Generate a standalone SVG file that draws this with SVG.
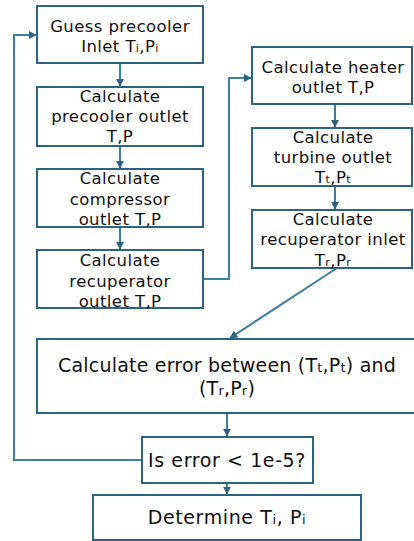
<svg xmlns="http://www.w3.org/2000/svg" width="414" height="541" viewBox="0 0 414 541">
<style>
.box{fill:#fff;stroke:#2a6482;stroke-width:2}
.c{fill:none;stroke:#3a7fa6;stroke-width:2}
text{font-family:"DejaVu Sans","Noto Sans",sans-serif;font-size:16.5px;letter-spacing:0.4px;fill:#111;text-anchor:middle}
.b{font-size:19px;letter-spacing:0.6px}
.e{letter-spacing:0.2px}
.s{font-size:11px}
.bs{font-size:13px}
</style>
<defs>
<marker id="a" viewBox="0 0 10 10" refX="9" refY="5" markerWidth="4" markerHeight="4" orient="auto" markerUnits="strokeWidth">
<path d="M0,0L10,5L0,10z" fill="#2a6482"/>
</marker>
</defs>
<rect width="414" height="541" fill="#fff"/>
<g id="connectors">
<line class="c" x1="120" y1="63" x2="120" y2="86" marker-end="url(#a)"/>
<line class="c" x1="120" y1="146" x2="120" y2="168" marker-end="url(#a)"/>
<line class="c" x1="120" y1="227" x2="120" y2="249" marker-end="url(#a)"/>
<polyline class="c" points="203,279 229,279 229,78 251,78" marker-end="url(#a)"/>
<line class="c" x1="335" y1="104" x2="335" y2="127" marker-end="url(#a)"/>
<line class="c" x1="335" y1="186" x2="335" y2="209" marker-end="url(#a)"/>
<line class="c" x1="337" y1="268" x2="230" y2="338" marker-end="url(#a)"/>
<line class="c" x1="227" y1="413" x2="227" y2="436" marker-end="url(#a)"/>
<line class="c" x1="227" y1="483" x2="227" y2="494" marker-end="url(#a)"/>
<polyline class="c" points="142,460 14,460 14,35 36,35" marker-end="url(#a)"/>
</g>
<g id="n1"><rect class="box" x="37" y="6" width="166" height="57"/>
<text x="120" y="32">Guess precooler</text><text x="120" y="52">Inlet T<tspan class="s">i</tspan>,P<tspan class="s">i</tspan></text></g>
<g id="n2"><rect class="box" x="37" y="87" width="166" height="59"/>
<text x="120" y="102">Calculate</text><text x="120" y="122">precooler outlet</text><text x="120" y="142">T,P</text></g>
<g id="n3"><rect class="box" x="37" y="169" width="166" height="58"/>
<text x="120" y="184">Calculate</text><text x="120" y="205">compressor</text><text x="120" y="225">outlet T,P</text></g>
<g id="n4"><rect class="box" x="37" y="250" width="166" height="58"/>
<text x="120" y="266">Calculate</text><text x="120" y="287">recuperator</text><text x="120" y="307">outlet T,P</text></g>
<g id="n5"><rect class="box" x="252" y="47" width="160" height="57"/>
<text x="333" y="73">Calculate heater</text><text x="333" y="93">outlet T,P</text></g>
<g id="n6"><rect class="box" x="252" y="128" width="160" height="58"/>
<text x="333" y="143">Calculate</text><text x="333" y="163">turbine outlet</text><text x="333" y="183">T<tspan class="s">t</tspan>,P<tspan class="s">t</tspan></text></g>
<g id="n7"><rect class="box" x="252" y="210" width="160" height="58"/>
<text x="333" y="225">Calculate</text><text x="333" y="245">recuperator inlet</text><text x="333" y="266">T<tspan class="s">r</tspan>,P<tspan class="s">r</tspan></text></g>
<g id="n8"><rect class="box" x="37" y="339" width="380" height="74"/>
<text class="b e" x="227" y="372">Calculate error between (T<tspan class="bs">t</tspan>,P<tspan class="bs">t</tspan>) and</text><text class="b e" x="227" y="395">(T<tspan class="bs">r</tspan>,P<tspan class="bs">r</tspan>)</text></g>
<g id="n9"><rect class="box" x="142" y="437" width="171" height="46"/>
<text class="b" x="227" y="467">Is error &lt; 1e-5?</text></g>
<g id="n10"><rect class="box" x="93" y="495" width="268" height="45"/>
<text class="b" x="227" y="524">Determine T<tspan class="bs">i</tspan>, P<tspan class="bs">i</tspan></text></g>
</svg>
